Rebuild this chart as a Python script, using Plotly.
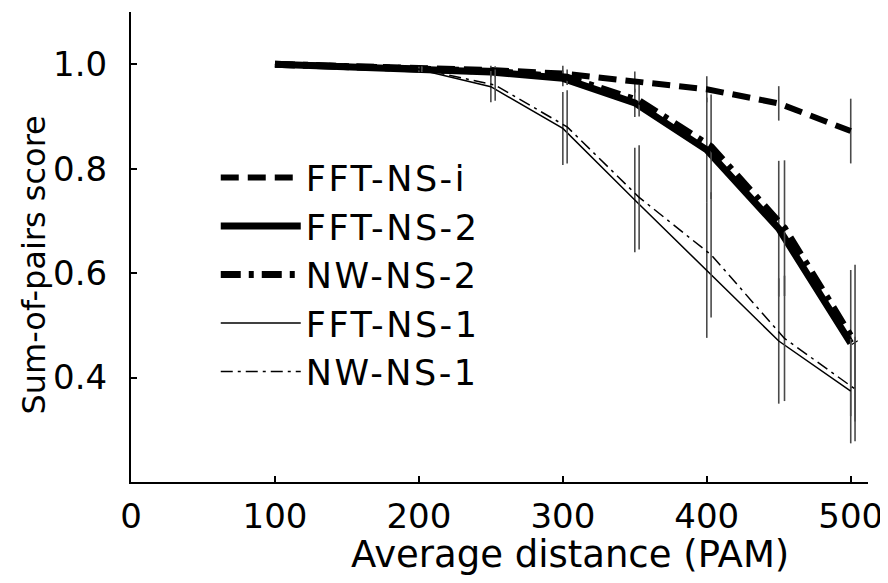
import plotly.graph_objects as go

# average distance (PAM) at which each method was measured
x_fft = [100, 200, 250, 300, 350, 400, 450, 500]
x_nw = [100, 202, 253, 303, 353, 403, 454, 503]

# sum-of-pairs score (mean) and error bar half-heights
fft_ns_i = [1.0, 0.992, 0.989, 0.982, 0.966, 0.952, 0.925, 0.872]
fft_ns_i_err = [0, 0.005, 0.008, 0.015, 0.02, 0.025, 0.033, 0.062]

fft_ns_2 = [1.0, 0.99, 0.985, 0.973, 0.926, 0.836, 0.685, 0.466]
fft_ns_2_err = [0, 0.005, 0.01, 0.015, 0.027, 0.10, 0.13, 0.14]

nw_ns_2 = [1.0, 0.991, 0.986, 0.975, 0.93, 0.842, 0.686, 0.466]
nw_ns_2_err = [0, 0.005, 0.01, 0.015, 0.03, 0.10, 0.13, 0.15]

fft_ns_1 = [1.0, 0.99, 0.957, 0.877, 0.74, 0.606, 0.47, 0.374]
fft_ns_1_err = [0, 0.005, 0.03, 0.07, 0.10, 0.13, 0.12, 0.10]

nw_ns_1 = [1.0, 0.99, 0.96, 0.88, 0.745, 0.635, 0.475, 0.378]
nw_ns_1_err = [0, 0.005, 0.03, 0.07, 0.10, 0.12, 0.12, 0.10]

series = [
    ("FFT-NS-i", x_fft, fft_ns_i, fft_ns_i_err, 6, "18px,9px"),
    ("FFT-NS-2", x_fft, fft_ns_2, fft_ns_2_err, 7, "solid"),
    ("NW-NS-2", x_nw, nw_ns_2, nw_ns_2_err, 7, "20px,8px,5px,8px"),
    ("FFT-NS-1", x_fft, fft_ns_1, fft_ns_1_err, 1.5, "solid"),
    ("NW-NS-1", x_nw, nw_ns_1, nw_ns_1_err, 1.5, "12px,5px,3px,5px"),
]

FONT = "DejaVu Sans, Liberation Sans, Arial, sans-serif"

fig = go.Figure()

for name, xs, ys, err, w, dash in series:
    # legend lettering in the original is wide, so space the letters out a bit
    label = '<span style="letter-spacing:2.5px">' + name + '</span>'
    fig.add_trace(go.Scatter(x=xs, y=ys, name=label, mode="lines",
                             line=dict(color="black", width=w, dash=dash),
                             error_y=dict(type="data", array=err, visible=True,
                                          color="#4a4a4a", thickness=1.6, width=0)))

fig.update_xaxes(range=[0, 512],
                 tickvals=[0, 100, 200, 300, 400, 500],
                 showgrid=False, zeroline=False, automargin=False,
                 showline=True, linecolor="black", linewidth=2,
                 ticks="inside", ticklen=6, tickwidth=1.5, tickcolor="black",
                 ticklabelstandoff=3,
                 tickfont=dict(size=34, color="black"))
fig.update_yaxes(range=[0.2, 1.1],
                 tickvals=[0.4, 0.6, 0.8, 1.0],
                 ticktext=["0.4", "0.6", "0.8", "1.0"],
                 showgrid=False, zeroline=False, automargin=False,
                 showline=True, linecolor="black", linewidth=2,
                 ticks="inside", ticklen=6, tickwidth=1.5, tickcolor="black",
                 ticklabelstandoff=15,
                 tickfont=dict(size=34, color="black"))

# axis titles (the x title sits right of centre in the original)
fig.add_annotation(text="Average distance (PAM)", xref="paper", yref="paper",
                   x=0.595, y=-0.155, xanchor="center", yanchor="middle",
                   showarrow=False, font=dict(size=37, color="black"))
fig.add_annotation(text="Sum-of-pairs score", xref="paper", yref="paper",
                   x=-0.132, y=0.462, xanchor="center", yanchor="middle",
                   textangle=-90, showarrow=False, font=dict(size=32, color="black"))

# the page body has an 8px margin, so the figure is 8px smaller than the window
fig.update_layout(width=880, height=575,
                  margin=dict(l=123, r=20, t=4, b=101),
                  font=dict(family=FONT, color="black"),
                  plot_bgcolor="white", paper_bgcolor="white",
                  legend=dict(x=0.115, y=0.71, xanchor="left", yanchor="top",
                              bgcolor="rgba(0,0,0,0)", borderwidth=0,
                              font=dict(size=35, color="black"),
                              itemwidth=80, tracegroupgap=0))

fig.write_html("out.html")
